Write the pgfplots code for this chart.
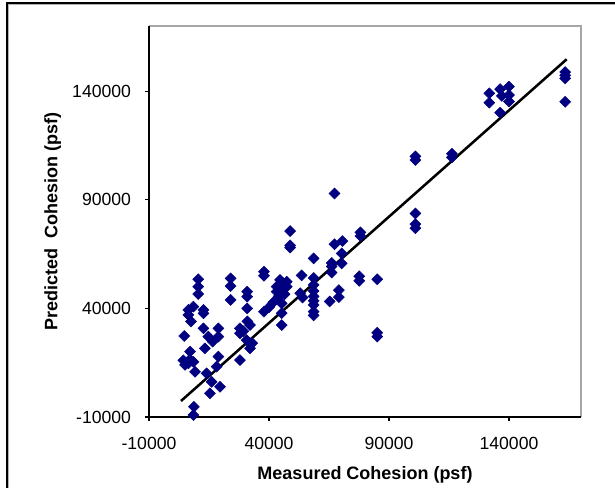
\documentclass[border=0pt]{standalone}
\usepackage{pgfplots}
\pgfplotsset{compat=1.18}
\usepackage{fontspec}
\setmainfont{Liberation Sans}
\definecolor{navyd}{RGB}{0,0,128}
\begin{document}
\begin{tikzpicture}[x=1pt,y=1pt]
\useasboundingbox (0,0) rectangle (461.25,366);
\draw[black,line width=0.9pt] (5.25,-5) -- (5.25,363.75) -- (470,363.75);
\draw[gray!60,line width=0.6pt] (6.3,-5) -- (6.3,362.7) -- (470,362.7);
\begin{axis}[
  at={(111.75pt,53.25pt)}, anchor=south west,
  scale only axis, width=324pt, height=293.25pt,
  xmin=-10000, xmax=170000, ymin=-10000, ymax=170000,
  scaled ticks=false,
  xtick={-10000,40000,90000,140000},
  xticklabels={{-10000},{40000},{90000},{140000}},
  ytick={-10000,40000,90000,140000},
  yticklabels={{-10000},{40000},{90000},{140000}},
  tick align=outside, major tick length=3pt,
  tick style={black, line width=0.9pt},
  xtick pos=bottom, ytick pos=left,
  axis line style={draw=none},
  ticklabel style={font=\fontsize{13.2}{15}\selectfont},
  xticklabel style={yshift=-9pt},
  yticklabel style={xshift=-7pt},
  xlabel={\bfseries Measured Cohesion (psf)},
  ylabel={\bfseries Predicted\ \ Cohesion (psf)},
  label style={font=\fontsize{13.5}{15}\selectfont},
  xlabel style={yshift=-5pt},
  ylabel style={yshift=1.5pt},
  clip=false,
]
\draw[gray!70, line width=0.8pt] (rel axis cs:0,1) -- (rel axis cs:1,1) -- (rel axis cs:1,0);
\draw[black, line width=1pt] (rel axis cs:0,1) -- (rel axis cs:0,0) -- (rel axis cs:1,0);
\addplot[only marks, mark=square*, mark size=2.9pt, mark options={rotate=45, fill=navyd, draw=navyd}] coordinates {
(163400,148800)(163400,147300)(163400,145900)(163400,135100)
(131800,139000)(131800,134700)(136300,140900)(137000,137800)(140000,142100)(140000,138200)(140000,135200)(136300,130100)
(116200,111200)(116200,109500)
(101000,110000)(101000,108300)
(101000,83700)(101000,78800)(101000,76900)
(85100,53400)(85100,28800)(85100,27000)
(77600,54800)(77600,52700)
(78100,75000)(78100,73300)
(70600,71000)(67300,69500)(67300,92900)
(70300,65300)(58600,63000)
(66100,60900)(66100,59300)(70300,60700)(66100,56500)
(69100,48400)(69100,45200)(65300,43200)
(58600,54000)(58600,50800)(58600,48000)(58600,45500)(58600,43500)(58600,41600)(58600,38500)(58600,36800)
(53600,55200)(54000,45000)(53000,47000)
(48800,75600)(48800,69000)(48800,68000)
(44600,53100)(47400,52300)(46000,51500)(43200,50000)(45300,48500)(47400,50000)(43200,47700)(46500,46500)(44000,45500)
(41800,42800)(45300,42300)(40000,40500)(37900,38500)(45300,37800)(45300,32300)
(37900,56900)(37900,55000)
(30900,47700)(30900,45400)(30900,40000)
(24000,53800)(24000,50300)(24000,43900)
(10500,53400)(10500,50000)(10500,46600)
(6400,39300)(6400,37000)(8500,40800)(7500,34000)(12700,39300)(12700,37700)
(4700,27300)(12700,30800)(14700,27000)(18900,30800)(18900,27000)(16500,24700)(13300,21600)(7100,20100)
(4300,16100)(6400,14700)(8500,15400)(5000,14000)(7000,16500)(9200,10800)
(18900,17800)(18200,13200)(14000,10100)(16100,6200)(15400,900)(19600,3900)
(8700,-5300)(8500,-9100)
(27900,30800)(27900,28500)(29300,29500)(30700,25400)(27900,16200)(32100,32300)(32100,21600)(31000,34000)(33000,24000)
};
\addplot[black, line width=1.9pt] coordinates {(3333,-2634) (164040,154690)};
\end{axis}
\end{tikzpicture}
\end{document}
